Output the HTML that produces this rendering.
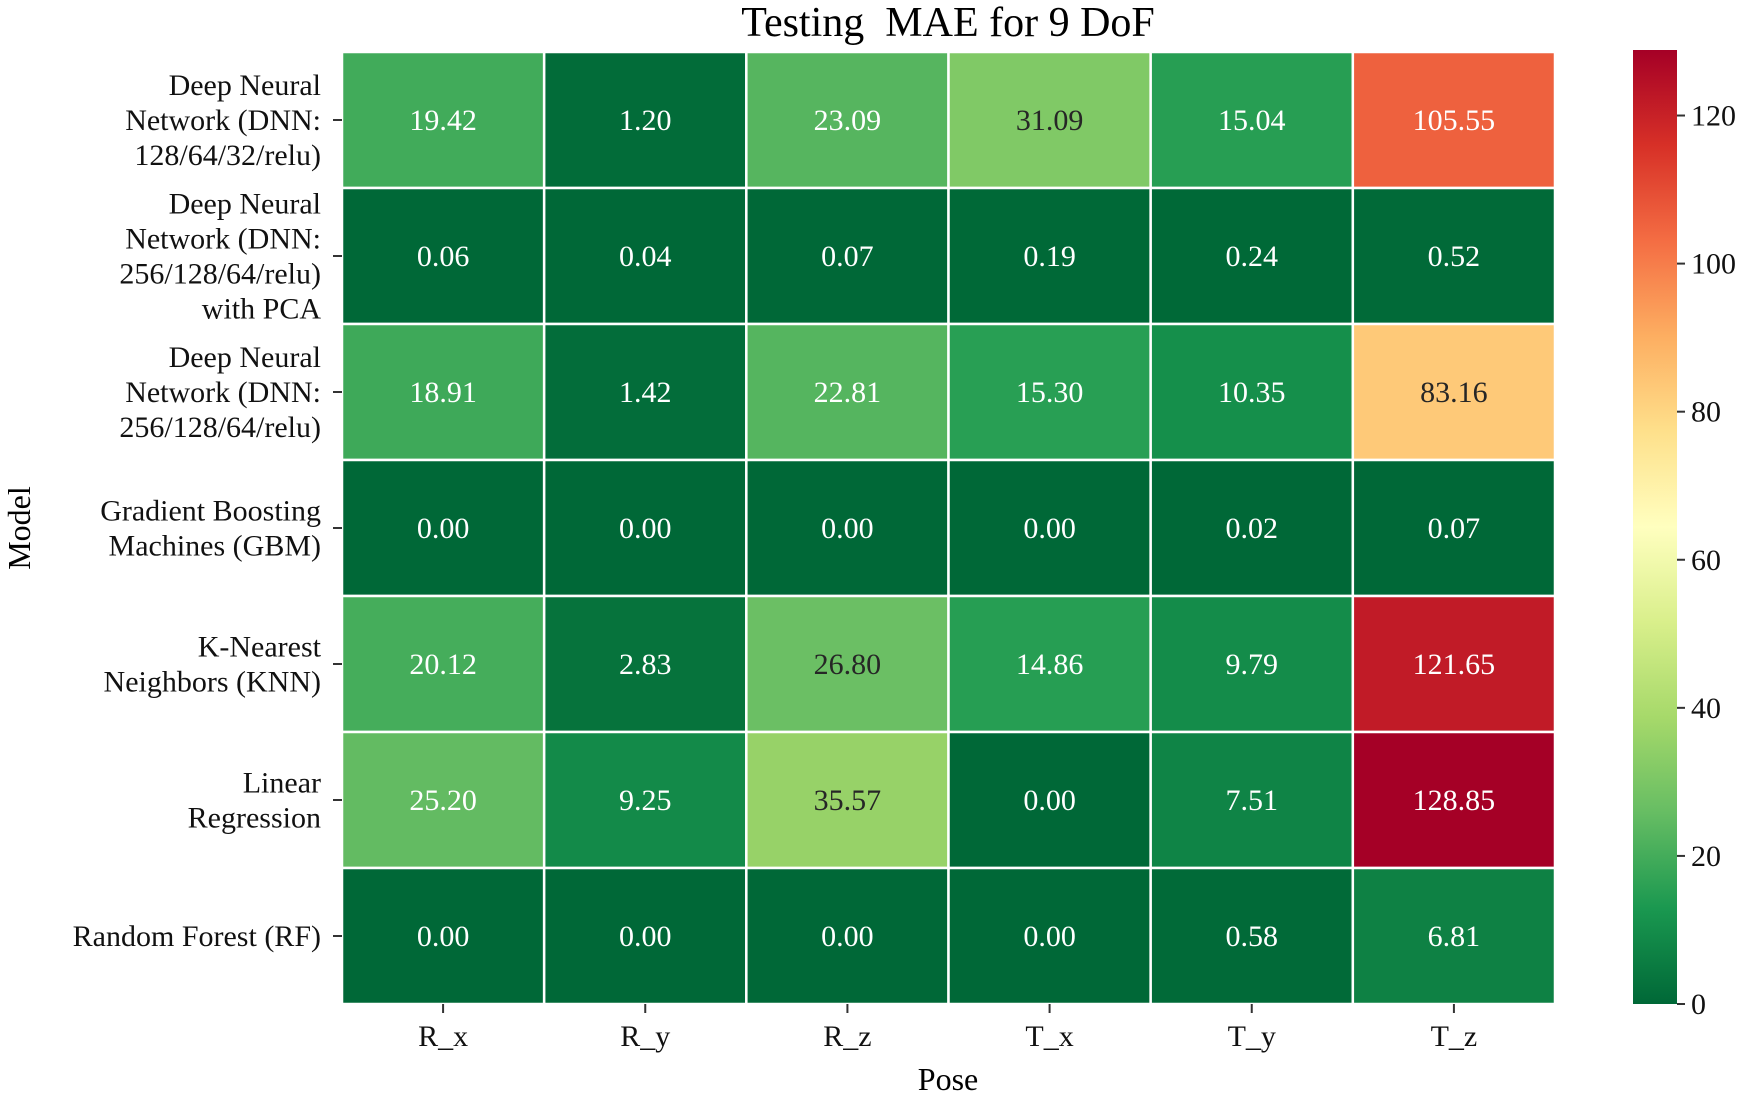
<!DOCTYPE html>
<html><head><meta charset="utf-8"><style>
html,body{margin:0;padding:0;background:#fff;}
svg text{font-family:"Liberation Serif",serif;}
</style></head><body>
<svg id="chart" width="1749" height="1096" viewBox="0 0 1749 1096" xmlns="http://www.w3.org/2000/svg">
<defs><linearGradient id="cbgrad" x1="0" y1="1" x2="0" y2="0"></linearGradient></defs>
<text x="948" y="36" font-size="42" text-anchor="middle" xml:space="preserve">Testing  MAE for 9 DoF</text>
<g id="cells"></g>
<g id="ylabels"></g>
<g id="xlabels"></g>
<text x="948" y="1090" font-size="32" text-anchor="middle">Pose</text>
<text x="0" y="0" font-size="32" text-anchor="middle" transform="translate(30,528) rotate(-90)">Model</text>
<g id="colorbar"></g>
</svg>
<script>
const poses = ["R_x","R_y","R_z","T_x","T_y","T_z"];
const models = [
  ["Deep Neural","Network (DNN:","128/64/32/relu)"],
  ["Deep Neural","Network (DNN:","256/128/64/relu)","with PCA"],
  ["Deep Neural","Network (DNN:","256/128/64/relu)"],
  ["Gradient Boosting","Machines (GBM)"],
  ["K-Nearest","Neighbors (KNN)"],
  ["Linear","Regression"],
  ["Random Forest (RF)"]
];
const row0 = [19.42,1.20,23.09,31.09,15.04,105.55];
const row1 = [0.06,0.04,0.07,0.19,0.24,0.52];
const row2 = [18.91,1.42,22.81,15.30,10.35,83.16];
const row3 = [0.00,0.00,0.00,0.00,0.02,0.07];
const row4 = [20.12,2.83,26.80,14.86,9.79,121.65];
const row5 = [25.20,9.25,35.57,0.00,7.51,128.85];
const row6 = [0.00,0.00,0.00,0.00,0.58,6.81];
const values = [row0,row1,row2,row3,row4,row5,row6];
const cbTicks = [0,20,40,60,80,100,120];

const NS="http://www.w3.org/2000/svg";
const L=342,R=1555,T=52,B=1004;
const cw=(R-L)/poses.length, rh=(B-T)/models.length;
const vmin=0, vmax=Math.max(...values.flat());
const stops=["#006837","#1a9850","#66bd63","#a6d96a","#d9ef8b","#ffffbf","#fee08b","#fdae61","#f46d43","#d73027","#a50026"];
function hex(h){return [1,3,5].map(i=>parseInt(h.substr(i,2),16));}
function cmap(v){let t=(v-vmin)/(vmax-vmin);t=Math.max(0,Math.min(1,t));const p=t*(stops.length-1);const i=Math.min(Math.floor(p),stops.length-2);const f=p-i;const a=hex(stops[i]),b=hex(stops[i+1]);return a.map((x,k)=>Math.round(x+(b[k]-x)*f));}
function lum(c){const s=c.map(x=>{x/=255;return x<=0.03928?x/12.92:Math.pow((x+0.055)/1.055,2.4);});return 0.2126*s[0]+0.7152*s[1]+0.0722*s[2];}
function el(tag,attrs,parent){const e=document.createElementNS(NS,tag);for(const k in attrs)e.setAttribute(k,attrs[k]);parent.appendChild(e);return e;}
const xs=i=>L+i*cw, ys=j=>T+j*rh;
const cells=document.getElementById('cells');
values.forEach((row,j)=>{row.forEach((v,i)=>{
  const c=cmap(v);
  const r=el('rect',{x:xs(i),y:ys(j),width:cw,height:rh,fill:`rgb(${c})`,stroke:'#fff','stroke-width':2.5},cells);
  
  
  const t=el('text',{x:xs(i)+cw/2,y:ys(j)+rh/2+10,'font-size':30,'text-anchor':'middle',fill:lum(c)>0.408?'#262626':'#ffffff'},cells);
  
  
  t.textContent=v.toFixed(2);
});});
const yl=document.getElementById('ylabels');
models.forEach((lines,j)=>{
  const cy=ys(j)+rh/2;
  const tk=el('line',{x1:L-9,x2:L,y1:cy,y2:cy,stroke:'#333','stroke-width':2},yl);
  
  
  const lh=35, start=cy-(lines.length-1)*lh/2+10;
  lines.forEach((s,k)=>{
    const t=el('text',{x:321,y:start+k*lh,'font-size':30,'text-anchor':'end',fill:'#111'},yl);
    
    
    t.textContent=s;
  });
});
const xl=document.getElementById('xlabels');
poses.forEach((p,i)=>{
  const cx=xs(i)+cw/2;
  const tk=el('line',{x1:cx,x2:cx,y1:B,y2:B+9,stroke:'#333','stroke-width':2},xl);
  
  
  const t=el('text',{x:cx,y:1046,'font-size':30,'text-anchor':'middle',fill:'#111'},xl);
  
  
  t.textContent=p;
});
const g=document.getElementById('cbgrad');
stops.forEach((s,k)=>{el('stop',{offset:(k/(stops.length-1)),'stop-color':s},g);});
const cb=document.getElementById('colorbar');
const CL=1633,CR=1677;
const cbY=v=>B-(v-vmin)/(vmax-vmin)*(B-T+2);
const cbr=el('rect',{x:CL,y:cbY(vmax),width:CR-CL,height:B-cbY(vmax),fill:'url(#cbgrad)'},cb);


cbTicks.forEach(v=>{
  const y=cbY(v);
  const tk=el('line',{x1:CR,x2:CR+8,y1:y,y2:y,stroke:'#333','stroke-width':2},cb);
  
  
  const t=el('text',{x:CR+14,y:y+10,'font-size':30,fill:'#111'},cb);
  
  
  t.textContent=v;
});
</script>
</body></html>
